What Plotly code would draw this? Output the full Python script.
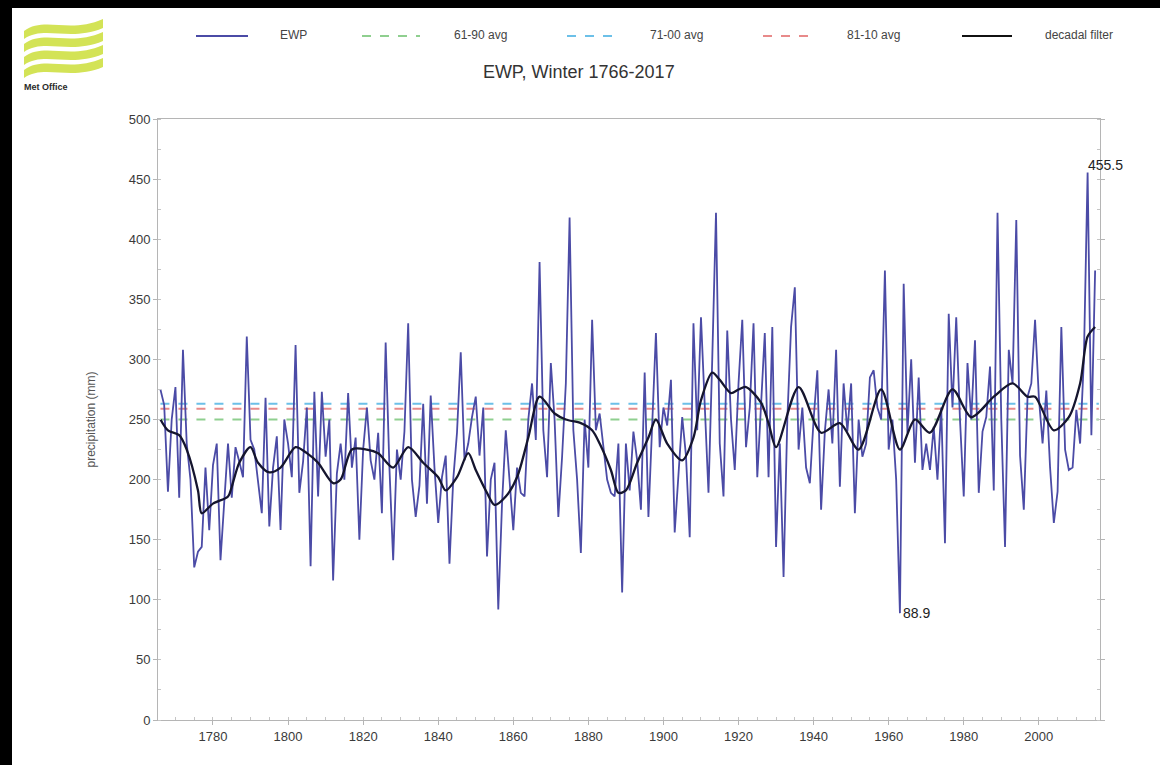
import plotly.graph_objects as go

# England & Wales Precipitation, winter (DJF) totals, indexed by the December year
first_year = 1766
ewp_mm = [
    275, 262, 190, 250,
    277, 185, 308, 230, 200, 127, 140, 144, 210, 158,
    212, 230, 133, 185, 230, 185, 227, 215, 202, 319,
    233, 225, 200, 172, 268, 161, 210, 236, 158, 250,
    230, 202, 312, 189, 215, 260, 128, 273, 186, 273,
    219, 250, 116, 205, 230, 200, 272, 210, 235, 150,
    225, 260, 216, 200, 239, 172, 314, 210, 133, 225,
    200, 240, 330, 200, 169, 195, 263, 180, 270, 210,
    164, 202, 220, 130, 200, 239, 306, 216, 230, 252,
    269, 220, 260, 136, 200, 214, 92, 180, 241, 200,
    158, 210, 189, 186, 250, 280, 233, 381, 241, 202,
    297, 250, 169, 219, 280, 418, 241, 200, 139, 250,
    210, 333, 241, 255, 230, 200, 189, 186, 230, 106,
    230, 191, 240, 216, 175, 289, 169, 250, 322, 227,
    260, 245, 283, 156, 200, 252, 220, 152, 330, 241,
    335, 260, 189, 300, 422, 230, 186, 324, 250, 208,
    280, 333, 227, 260, 330, 202, 264, 322, 202, 327,
    144, 230, 119, 250, 327, 360, 225, 260, 210, 197,
    250, 291, 175, 240, 275, 230, 308, 194, 280, 240,
    280, 172, 250, 219, 230, 285, 291, 260, 250, 374,
    225, 250, 200, 88.9, 363, 239, 300, 214, 285, 208,
    230, 208, 244, 200, 260, 147, 338, 260, 335, 250,
    186, 297, 250, 316, 189, 240, 252, 294, 191, 422,
    250, 144, 308, 280, 416, 220, 175, 269, 280, 333,
    269, 230, 274, 210, 164, 190, 327, 225, 208, 210,
    258, 230, 300, 455.5, 237, 374,
]
years = list(range(first_year, first_year + len(ewp_mm)))

# Decadal filter, sampled along the smoothed curve
filter_years = [1766, 1768, 1771, 1773, 1776, 1777, 1780, 1784, 1785, 1787,
                1790, 1792, 1795, 1798, 1802, 1805, 1808, 1812, 1814, 1817,
                1821, 1824, 1828, 1832, 1836, 1840, 1842, 1845, 1848, 1850,
                1853, 1855, 1858, 1861, 1864, 1867, 1871, 1874, 1878, 1881,
                1883, 1886, 1888, 1890, 1893, 1896, 1898, 1901, 1905, 1908,
                1910, 1913, 1915, 1918, 1920, 1922, 1926, 1928, 1930, 1936,
                1942, 1947, 1952, 1958, 1963, 1967, 1971, 1977, 1982, 1988,
                1993, 1997, 1999, 2004, 2008, 2011, 2013, 2015]
filter_mm = [250, 241, 237, 225, 191, 172, 180, 186, 194, 214,
             227, 214, 206, 210, 227, 222, 214, 197, 200, 225,
             225, 222, 210, 227, 214, 202, 191, 202, 222, 208,
             189, 179, 186, 202, 235, 269, 255, 250, 247, 241,
             230, 208, 189, 191, 214, 235, 250, 230, 216, 235,
             266, 289, 283, 272, 275, 277, 264, 247, 227, 277,
             239, 247, 225, 275, 225, 250, 239, 275, 252, 269,
             280, 269, 269, 241, 252, 280, 319, 327]

# Long-term averages
avg_names = ["61-90 avg", "71-00 avg", "81-10 avg"]
avg_mm = [250, 263, 259]
avg_colors = ["#8fcf8f", "#6cc0e8", "#e88a8a"]

ewp_color = "#4b4ba6"
filter_color = "#15152e"

# Figure geometry (pixels)
W, H = 1160, 765
ML, MR, MT, MB = 158, 60, 119, 45
PW, PH = W - ML - MR, H - MT - MB


def px(x):
    return (x - ML) / PW


def py(y):
    return 1 - (y - MT) / PH


fig = go.Figure()

for name, val, col in zip(avg_names, avg_mm, avg_colors):
    fig.add_trace(go.Scatter(
        x=[years[0], years[-1] + 1], y=[val, val], mode="lines", name=name,
        line=dict(color=col, width=2, dash="dash"), hoverinfo="skip"))

fig.add_trace(go.Scatter(x=years, y=ewp_mm, mode="lines", name="EWP",
                         line=dict(color=ewp_color, width=1.8)))
fig.add_trace(go.Scatter(x=filter_years, y=filter_mm, mode="lines",
                         name="decadal filter",
                         line=dict(color=filter_color, width=2.3,
                                   shape="spline", smoothing=0.8)))

font_family = "Liberation Sans, Arial, sans-serif"

shapes = []
annotations = []

# Frame strips along the top and left edges
shapes.append(dict(type="rect", xref="paper", yref="paper", x0=px(0), x1=px(12),
                   y0=py(0), y1=py(H), fillcolor="black", line=dict(width=0), layer="above"))
shapes.append(dict(type="rect", xref="paper", yref="paper", x0=px(0), x1=px(W),
                   y0=py(0), y1=py(8), fillcolor="black", line=dict(width=0), layer="above"))

# Logo: four wavy bands
for i in range(4):
    y0 = 22 + i * 13
    pts_top = [(24, y0 + 9), (44, y0 - 6), (70, y0 + 12), (103, y0 - 3)]
    pts_bot = [(103, y0 + 6), (70, y0 + 20), (44, y0 + 3), (24, y0 + 17)]
    def fmt(p):
        return f"{px(p[0]):.5f},{py(p[1]):.5f}"
    path = (f"M {fmt(pts_top[0])} C {fmt(pts_top[1])} {fmt(pts_top[2])} {fmt(pts_top[3])} "
            f"L {fmt(pts_bot[0])} C {fmt(pts_bot[1])} {fmt(pts_bot[2])} {fmt(pts_bot[3])} Z")
    shapes.append(dict(type="path", xref="paper", yref="paper", path=path,
                       fillcolor="#d3e356", line=dict(width=0)))
annotations.append(dict(xref="paper", yref="paper", x=px(22), y=py(87), text="<b>Met Office</b>",
                        showarrow=False, xanchor="left", yanchor="middle",
                        font=dict(family=font_family, size=9, color="#2a2a2a")))

# Legend drawn across the top
legend_items = [
    ("EWP", ewp_color, "solid", 196, 248, 278),
    ("61-90 avg", avg_colors[0], "dash", 362, 420, 452),
    ("71-00 avg", avg_colors[1], "dash", 567, 614, 648),
    ("81-10 avg", avg_colors[2], "dash", 763, 810, 845),
    ("decadal filter", "#111111", "solid", 962, 1012, 1043),
]
for label, col, dash, x0, x1, xt in legend_items:
    shapes.append(dict(type="line", xref="paper", yref="paper", x0=px(x0), x1=px(x1),
                       y0=py(36), y1=py(36), line=dict(color=col, width=2, dash=dash)))
    annotations.append(dict(xref="paper", yref="paper", x=px(xt), y=py(35), text=label,
                            showarrow=False, xanchor="left", yanchor="middle",
                            font=dict(family=font_family, size=12, color="#444444")))

# Extreme value labels
i_max = ewp_mm.index(max(ewp_mm))
i_min = ewp_mm.index(min(ewp_mm))
annotations.append(dict(x=years[i_max], y=ewp_mm[i_max], text=f"{ewp_mm[i_max]:.1f}",
                        showarrow=False, xanchor="left", yanchor="bottom", xshift=-2, yshift=-3,
                        font=dict(family=font_family, size=14, color="#222222")))
annotations.append(dict(x=years[i_min], y=ewp_mm[i_min], text=f"{ewp_mm[i_min]:.1f}",
                        showarrow=False, xanchor="left", yanchor="middle", xshift=1,
                        font=dict(family=font_family, size=14, color="#222222")))

fig.update_layout(
    width=W, height=H,
    margin=dict(l=ML, r=MR, t=MT, b=MB),
    paper_bgcolor="white", plot_bgcolor="white",
    showlegend=False,
    font=dict(family=font_family, size=13, color="#444444"),
    title=dict(text="EWP, Winter 1766-2017", x=px(628), xanchor="center",
               y=1 - 72 / H, yanchor="middle",
               font=dict(family=font_family, size=18, color="#333333")),
    shapes=shapes,
    annotations=annotations,
)

fig.update_xaxes(
    range=[1765.35, 2016.3], tickmode="linear", tick0=1780, dtick=20,
    showgrid=False, zeroline=False,
    showline=True, linecolor="#b5b5b5", linewidth=1, mirror=True,
    ticks="outside", ticklen=4, tickcolor="#b5b5b5",
    minor=dict(ticks="inside", dtick=5, ticklen=3, tickcolor="#c5c5c5"),
    tickfont=dict(size=13, color="#3a3a3a"),
)
fig.update_yaxes(
    range=[0, 500], tickmode="linear", tick0=0, dtick=50,
    showgrid=False, zeroline=False,
    showline=True, linecolor="#b5b5b5", linewidth=1, mirror="ticks",
    ticks="outside", ticklen=4, tickcolor="#b5b5b5",
    minor=dict(ticks="inside", dtick=25, ticklen=3, tickcolor="#c5c5c5"),
    tickfont=dict(size=13, color="#3a3a3a"),
    title=dict(text="precipitation (mm)", standoff=30,
               font=dict(size=12, color="#555555")),
)

fig.write_html("out.html")
